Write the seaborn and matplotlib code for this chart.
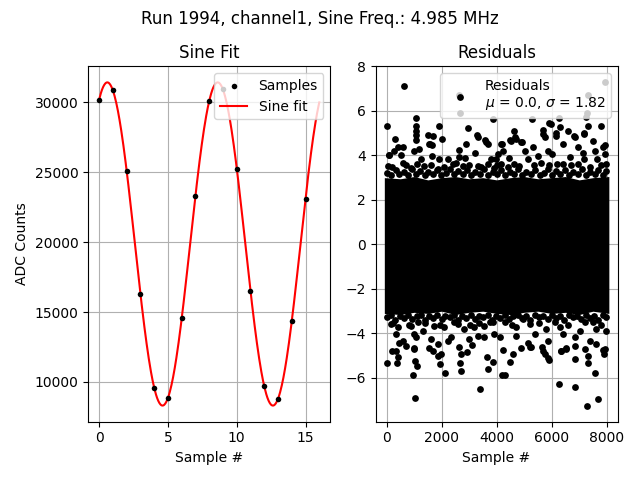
import numpy as np
import matplotlib
matplotlib.use('Agg')
import matplotlib.pyplot as plt
import seaborn as sns

# run info
run_number = 1994
channel = 'channel1'
sine_freq_mhz = 4.985
sample_rate_mhz = 40.0
n_samples = 8000

# first 16 ADC samples
sample_idx = list(range(16))
adc_counts = [30166, 30832, 25105, 16290, 9566, 8854, 14556, 23324,
              30095, 30903, 25248, 16504, 9733, 8782, 14342, 23110]

# residual statistics from the legend
resid_mu = 0.0
resid_sigma = 1.82

# dense part of the residual cloud: solid band edges, every 500 samples
band_x = [0, 500, 1000, 1500, 2000, 2500, 3000, 3500, 4000,
          4500, 5000, 5500, 6000, 6500, 7000, 7500, 8000]
band_top = [3.0, 2.95, 3.05, 2.9, 3.0, 3.05, 2.95, 3.0, 2.9,
            3.0, 3.05, 2.95, 3.0, 3.05, 2.9, 3.0, 3.05]
band_bot = [-3.1, -3.15, -3.05, -3.1, -3.0, -3.15, -3.05, -3.0, -3.1,
            -3.15, -3.05, -3.0, -3.1, -3.05, -3.15, -3.0, -3.1]

# ragged rim of the band (sample #, residual)
upper_rim = [
    (30, 3.20), (180, 3.10), (330, 3.35), (460, 3.15), (640, 3.25), (780, 3.10),
    (930, 3.40), (1080, 3.15), (1220, 3.30), (1380, 3.10), (1520, 3.25), (1700, 3.15),
    (1820, 3.35), (1980, 3.10), (2150, 3.20), (2300, 3.40), (2460, 3.15), (2600, 3.30),
    (2780, 3.15), (2920, 3.35), (3080, 3.10), (3230, 3.25), (3380, 3.15), (3540, 3.40),
    (3700, 3.10), (3860, 3.25), (4020, 3.15), (4160, 3.35), (4320, 3.10), (4480, 3.25),
    (4620, 3.15), (4780, 3.40), (4940, 3.10), (5080, 3.25), (5240, 3.15), (5400, 3.35),
    (5560, 3.10), (5720, 3.20), (5860, 3.40), (6020, 3.10), (6160, 3.30), (6320, 3.15),
    (6480, 3.35), (6630, 3.10), (6790, 3.25), (6940, 3.15), (7100, 3.40), (7250, 3.10),
    (7400, 3.25), (7560, 3.15), (7700, 3.35), (7850, 3.10), (7980, 3.30),
]
lower_rim = [
    (20, -3.25), (170, -3.15), (320, -3.40), (480, -3.20), (620, -3.30), (790, -3.15),
    (940, -3.35), (1090, -3.20), (1240, -3.15), (1390, -3.40), (1540, -3.20), (1690, -3.30),
    (1840, -3.15), (2000, -3.35), (2140, -3.20), (2290, -3.25), (2440, -3.15), (2600, -3.40),
    (2760, -3.20), (2900, -3.30), (3060, -3.15), (3220, -3.35), (3370, -3.20), (3520, -3.25),
    (3680, -3.15), (3840, -3.40), (3990, -3.20), (4140, -3.30), (4300, -3.15), (4450, -3.35),
    (4610, -3.20), (4760, -3.15), (4920, -3.30), (5070, -3.20), (5230, -3.40), (5380, -3.15),
    (5540, -3.25), (5700, -3.20), (5850, -3.35), (6000, -3.15), (6150, -3.30), (6310, -3.20),
    (6460, -3.40), (6620, -3.15), (6770, -3.25), (6930, -3.20), (7080, -3.35), (7240, -3.15),
    (7390, -3.30), (7550, -3.20), (7700, -3.40), (7860, -3.15), (7990, -3.25),
]

# scattered residuals above the band
upper_pts = [
    (0, 5.30), (618, 7.10), (2618, 6.70), (2667, 5.92), (7939, 7.28), (7309, 6.70),
    (7273, 5.90), (7260, 5.72), (1067, 5.69), (1070, 5.30), (1080, 5.10), (1060, 4.90),
    (1075, 4.70), (1891, 5.33), (2945, 5.24), (3854, 5.65), (5273, 5.65), (6279, 5.69),
    (73, 4.04), (303, 4.73), (2000, 4.75), (1576, 4.52), (1650, 4.45), (1491, 4.90),
    (3285, 4.90), (3576, 4.67), (3697, 4.49), (4182, 4.52), (4485, 4.67), (4642, 5.08),
    (4670, 4.82), (4909, 4.60), (5673, 5.12), (5690, 4.97), (5915, 5.47), (5990, 5.40),
    (6158, 5.00), (6594, 5.08), (6824, 4.85), (7188, 5.00), (7309, 5.30), (7806, 5.32),
    (7927, 4.48), (400, 4.36), (582, 4.36), (255, 4.21), (521, 4.01), (97, 4.01),
    (1006, 4.21), (1188, 4.31), (1248, 3.83), (1552, 4.51), (1673, 4.88), (1648, 3.98),
    (1915, 3.83), (2218, 3.83), (2643, 4.25), (2643, 3.91), (2885, 4.51), (3212, 4.13),
    (3309, 4.81), (3612, 4.58), (3794, 3.83), (3976, 3.83), (2860, 3.90), (36, 3.53),
    (582, 3.68), (885, 3.45), (1370, 3.53), (1855, 3.38), (2521, 3.68), (2764, 3.53),
    (3309, 3.53), (3673, 3.61), (3915, 3.45), (4533, 4.66), (4715, 4.74), (4897, 4.58),
    (4170, 4.51), (4230, 4.21), (5018, 4.21), (5321, 4.36), (5745, 4.81), (5867, 4.21),
    (6170, 4.88), (6291, 5.26), (6412, 4.51), (6836, 4.81), (7176, 4.96), (6958, 4.36),
    (7139, 4.13), (7564, 4.21), (7867, 4.36), (7927, 4.06), (7503, 4.66), (4048, 4.06),
    (5503, 3.98), (6655, 3.91), (4460, 3.90), (6010, 4.05), (5139, 3.83), (7176, 3.83),
    (7661, 3.83), (4170, 3.61), (4830, 3.53), (5624, 3.68), (6412, 3.61), (6958, 3.61),
    (7980, 3.60), (200, 3.50), (700, 3.55), (1100, 3.60), (1600, 3.55), (2100, 3.50),
    (2400, 3.60), (3000, 3.55), (3450, 3.50), (4000, 3.55), (4400, 3.50), (4650, 3.60),
    (5350, 3.55), (5900, 3.55), (6200, 3.60), (6700, 3.55), (7400, 3.50), (7800, 3.55),
]

# scattered residuals below the band
lower_pts = [
    (0, -5.33), (182, -4.77), (339, -4.80), (400, -5.04), (364, -5.33), (970, -5.88),
    (982, -4.67), (1042, -5.23), (1091, -5.45), (1030, -6.89), (1527, -4.67), (1673, -4.81),
    (1879, -5.00), (1939, -5.38), (1990, -4.92), (2109, -5.78), (2667, -5.33), (2691, -5.70),
    (2720, -4.92), (2933, -4.84), (3091, -4.52), (3382, -6.49), (3660, -5.07), (3697, -5.59),
    (3854, -5.29), (4194, -5.87), (4303, -5.87), (4242, -4.74), (4497, -5.30), (4606, -4.92),
    (4873, -4.67), (5224, -4.59), (5636, -4.59), (5685, -4.79), (5879, -5.11), (5890, -5.21),
    (6279, -6.27), (6327, -4.80), (6521, -4.67), (6836, -4.55), (6840, -5.16), (6836, -6.40),
    (7200, -4.71), (7309, -5.00), (7320, -5.33), (7297, -7.24), (7588, -5.78), (7673, -6.96),
    (7855, -4.74), (7920, -4.92), (582, -4.33), (703, -4.56), (339, -4.03), (461, -4.41),
    (1006, -4.71), (1067, -4.18), (1000, -4.03), (1612, -4.26), (1855, -4.48), (2218, -4.33),
    (2340, -4.18), (2643, -4.63), (3006, -4.26), (3309, -4.11), (3551, -4.18), (3915, -4.03),
    (1309, -3.88), (400, -3.73), (885, -3.66), (2097, -3.73), (2582, -3.58), (3188, -3.73),
    (158, -3.58), (1127, -3.50), (1733, -3.66), (2824, -3.81), (3551, -3.66), (3855, -3.50),
    (4109, -4.18), (4715, -4.11), (5139, -4.41), (5261, -4.63), (5745, -4.93), (5867, -4.33),
    (6352, -4.78), (6533, -4.71), (6836, -4.18), (7382, -4.33), (7624, -4.48), (7927, -4.71),
    (6412, -4.03), (5382, -4.03), (4715, -3.73), (5200, -3.58), (5806, -3.81), (6291, -3.73),
    (7018, -3.88), (7624, -3.81), (7986, -3.88), (4291, -3.50), (4960, -3.36), (6110, -3.50),
    (7200, -3.50), (250, -3.55), (800, -3.60), (1400, -3.55), (1950, -3.60), (2450, -3.50),
    (3050, -3.60), (3350, -3.55), (3750, -3.50), (4550, -3.60), (5550, -3.55), (6600, -3.60),
    (7500, -3.50), (7800, -3.60),
]

# sine fit of the samples at the known frequency (linear least squares)
w = 2 * np.pi * sine_freq_mhz / sample_rate_mhz
t = np.array(sample_idx, dtype=float)
A = np.column_stack([np.sin(w * t), np.cos(w * t), np.ones_like(t)])
coef, *_ = np.linalg.lstsq(A, np.array(adc_counts, dtype=float), rcond=None)
t_fine = np.linspace(0, 16, 400)
fit_curve = coef[0] * np.sin(w * t_fine) + coef[1] * np.cos(w * t_fine) + coef[2]

resid = np.array(upper_pts + upper_rim + lower_pts + lower_rim)

fig, (ax1, ax2) = plt.subplots(1, 2, figsize=(6.4, 4.8), dpi=100)
fig.suptitle(f'Run {run_number}, {channel}, Sine Freq.: {sine_freq_mhz} MHz')

# left: samples + fit
sns.scatterplot(x=sample_idx, y=adc_counts, ax=ax1, color='k', s=16,
                linewidth=0, label='Samples', zorder=3)
sns.lineplot(x=t_fine, y=fit_curve, ax=ax1, color='red', label='Sine fit',
             sort=False, estimator=None, zorder=2)
ax1.set_title('Sine Fit')
ax1.set_xlabel('Sample #')
ax1.set_ylabel('ADC Counts')
ax1.set_xticks([0, 5, 10, 15])
ax1.grid(True)
ax1.legend(loc='upper right')

# right: residuals
pad = 80  # marker radius in sample units
bx = np.array(band_x, dtype=float)
bx[0] -= pad
bx[-1] = n_samples - 1 + pad
ax2.fill_between(bx, band_bot, band_top, color='k', linewidth=0, zorder=2)
sns.scatterplot(x=resid[:, 0], y=resid[:, 1], ax=ax2, color='k', s=24,
                linewidth=0, zorder=3,
                label=f'Residuals\n$\\mu$ = {resid_mu:.1f}, $\\sigma$ = {resid_sigma:.2f}')
ax2.set_xlim(-0.05 * (n_samples - 1), 1.05 * (n_samples - 1))
ax2.set_title('Residuals')
ax2.set_xlabel('Sample #')
ax2.set_ylabel('')
ax2.set_xticks([0, 2000, 4000, 6000, 8000])
ax2.set_yticks([-6, -4, -2, 0, 2, 4, 6, 8])
ax2.grid(True)
ax2.legend(loc='upper right')

fig.tight_layout()
fig.subplots_adjust(top=0.862)
fig.savefig('out.png', dpi=100)
